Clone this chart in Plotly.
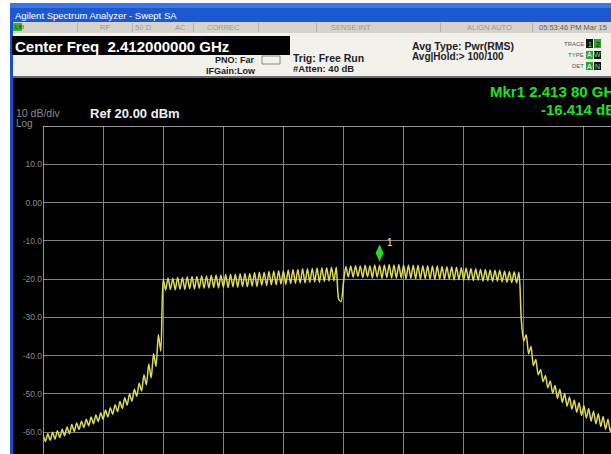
import plotly.graph_objects as go

# sweep grid (MHz): first visible point and step between sweep points
f_start = 2397.0
f_step = 0.12

# trace levels (dBm), one per sweep point
skirt_left = [
    -60.6, -62.4, -60.4, -62.1, -60.0, -61.8, -59.6, -61.4, -59.2, -60.9,
    -58.6, -60.4, -58.0, -59.8, -57.6, -59.3, -57.1, -58.8, -56.6, -58.3,
    -56.0, -57.8, -55.5, -57.2, -54.9, -56.6, -54.2, -56.0, -53.6, -55.3,
    -52.8, -54.6, -52.0, -53.8, -51.0, -52.9, -50.0, -51.9, -48.8, -50.6,
    -47.2, -49.2, -45.0, -47.6, -42.2, -45.8, -39.5, -42.8, -34.5, -38.8,
]
plateau = [
    -19.9, -22.9, -19.7, -22.7, -19.8, -22.8, -19.5, -22.6, -19.6, -22.7,
    -19.4, -22.5, -19.3, -22.6, -19.3, -22.4, -19.1, -22.4, -19.2, -22.3,
    -19.0, -22.2, -18.9, -22.3, -18.9, -22.1, -18.8, -22.2, -18.7, -22.0,
    -18.7, -22.1, -18.6, -21.9, -18.5, -22.0, -18.5, -21.8, -18.3, -21.9,
    -18.2, -21.6, -18.2, -21.7, -18.0, -21.5, -17.9, -21.5, -17.8, -21.3,
    -17.8, -21.4, -17.6, -21.2, -17.5, -21.1, -17.5, -21.0, -17.3, -21.0,
    -17.3, -20.8, -17.2, -20.7, -17.1, -20.8, -17.0, -20.6, -17.0, -20.5,
    -16.9, -20.4, -16.9, -25.2, -25.9, -20.8, -16.7, -19.4, -16.6, -19.5,
    -16.5, -19.3, -16.6, -19.6, -16.4, -19.4, -16.5, -19.7, -16.3, -19.5,
    -16.4, -19.8, -16.3, -19.6, -16.2, -19.7, -16.3, -19.8, -16.2, -19.7,
    -16.3, -19.9, -16.3, -19.8, -16.4, -19.9, -16.4, -20.0, -16.5, -19.9,
    -16.5, -20.0, -16.6, -20.1, -16.6, -20.0, -16.7, -20.1, -16.8, -20.0,
    -16.8, -20.2, -16.9, -20.1, -17.0, -20.3, -17.1, -20.2, -17.2, -20.4,
    -17.3, -20.3, -17.4, -20.5, -17.5, -20.4, -17.6, -20.6, -17.7, -20.5,
    -17.7, -20.7, -17.9, -20.8, -18.0, -20.9, -18.1, -21.0, -18.2,
]
skirt_right = [
    -31.0, -36.2, -34.5, -39.5, -37.6, -42.6, -41.0, -45.0, -43.6, -46.8,
    -45.2, -48.4, -46.6, -49.8, -47.8, -51.2, -48.8, -52.2, -49.9, -53.2,
    -50.8, -54.0, -51.6, -54.8, -52.3, -55.6, -53.0, -56.3, -53.8, -57.1,
    -54.5, -57.8, -55.2, -58.5, -55.9, -59.2, -56.6, -59.8, -57.2,
]
levels = skirt_left + plateau + skirt_right
freqs = [f_start + f_step * i for i in range(len(levels))]

mkr_freq = 2413.80
mkr_level = -16.414

y_ticks = [20, 10, 0, -10, -20, -30, -40, -50, -60]
y_labels = ["", "10.0", "0.00", "-10.0", "-20.0", "-30.0", "-40.0", "-50.0", "-60.0"]

# pixel frame of the graticule inside the 611x454 picture
L, T, W, H = 43, 126, 568, 328
FW, FH = 611, 454


def px(x):
    return (x - L) / W


def py(y):
    return (T + H - y) / H


FONT = "Liberation Sans, Arial, sans-serif"

fig = go.Figure()
fig.add_trace(go.Scatter(x=freqs, y=levels, mode="lines",
                         line=dict(color="#dcdc5a", width=1.5, shape="spline", smoothing=0.7),
                         hoverinfo="skip", showlegend=False))

shapes = []


def rect(x0, y0, x1, y1, color, line=None, layer="below"):
    shapes.append(dict(type="rect", xref="paper", yref="paper",
                       x0=px(x0), x1=px(x1), y0=py(y1), y1=py(y0),
                       fillcolor=color, line=dict(width=1 if line else 0, color=line or color),
                       layer=layer))


def text(x, y, s, size, color, bold=False, anchor="left", family=FONT):
    if bold:
        s = "<b>" + s + "</b>"
    fig.add_annotation(xref="paper", yref="paper", x=px(x), y=py(y), text=s,
                       showarrow=False, xanchor=anchor, yanchor="middle",
                       borderpad=0, font=dict(family=family, size=size, color=color))


# window chrome
rect(10, 3, FW, 22, "#1c58d0")
rect(10, 3, FW, 8, "#3a76e4")
rect(10, 22, 13, FH, "#1450d0")
rect(13, 22, FW, 33, "#d6d3cc")
rect(13, 33, FW, 76, "#f3f1ec")
rect(13, 76, FW, 78, "#6a6a6a")
rect(13, 78, FW, FH, "#000000")
rect(12, 36, 290, 55, "#000000")
rect(13, 23, 22, 31, "#2fb52f")
for xd in [77, 132, 193, 258, 316, 440, 532]:
    rect(xd, 23, xd + 1, 32, "#b4b1aa")
rect(262, 56, 280, 64, "#f3f1ec", line="#888888")
# trace / type / det boxes
rect(586, 39, 593, 48, "#151515")
rect(594, 39, 601, 48, "#2f9f2f")
rect(586, 51, 593, 59, "#2f9f2f")
rect(594, 51, 601, 59, "#151515")
rect(586, 62, 593, 70, "#2f9f2f")
rect(594, 62, 601, 70, "#151515")

text(14, 15, "Agilent Spectrum Analyzer - Swept SA", 9.5, "white")
text(14, 27, "LXI", 6, "#0a3a0a")
text(99, 27, "RF", 7.5, "#9c9a94")
text(134, 27, "50 Ω", 7.5, "#9c9a94")
text(174, 27, "AC", 7.5, "#9c9a94")
text(206, 27, "CORREC", 7.5, "#9c9a94")
text(330, 27, "SENSE:INT", 7.5, "#9c9a94")
text(466, 27, "ALIGN AUTO", 7.5, "#9c9a94")
text(538, 27, "05:53:46 PM Mar 15", 7.5, "#606060")
text(14, 46, "Center Freq  2.412000000 GHz", 15, "white", bold=True)
text(214, 60, "PNO: Far", 9, "#222222", bold=True)
text(205, 71, "IFGain:Low", 9, "#222222", bold=True)
text(292, 58, "Trig: Free Run", 10.5, "#222222", bold=True)
text(292, 69, "#Atten: 40 dB", 9.5, "#222222", bold=True)
text(411, 46, "Avg Type: Pwr(RMS)", 10.5, "#222222", bold=True)
text(411, 57, "Avg|Hold:> 100/100", 10, "#222222", bold=True)
text(585, 44, "TRACE", 6, "#555555", anchor="right")
text(585, 55, "TYPE", 6, "#555555", anchor="right")
text(585, 66, "DET", 6, "#555555", anchor="right")
text(589.5, 44, "1", 7, "#6fe06f", anchor="center")
text(597.5, 44, "2", 7, "#0a2a0a", anchor="center")
text(589.5, 55, "A", 7, "white", anchor="center")
text(597.5, 55, "W", 7, "#6fe06f", anchor="center")
text(589.5, 66, "A", 7, "white", anchor="center")
text(597.5, 66, "N", 7, "#6fe06f", anchor="center")

# display annotations
text(15, 113, "10 dB/div", 10.5, "#8a8a8a")
text(15, 123.5, "Log", 10, "#8a8a8a")
text(89, 114, "Ref 20.00 dBm", 13, "#f0f0f0", bold=True)
text(489, 92, "Mkr1 2.413 80 GHz", 15, "#22e022", bold=True)
text(540, 109, "-16.414 dBm", 15, "#22e022", bold=True)

# marker 1: diamond sitting just above the trace point, with its number
shapes.append(dict(type="path", xref="x", yref="y", xsizemode="pixel", ysizemode="pixel",
                   xanchor=mkr_freq, yanchor=mkr_level,
                   path="M 0,4 L 4,12.5 L 0,21 L -4,12.5 Z",
                   fillcolor="#1ee01e", line=dict(width=0), layer="above"))
fig.add_annotation(x=mkr_freq, y=mkr_level, text="1", showarrow=False,
                   xshift=10, yshift=23, font=dict(family=FONT, size=10, color="#e6f0c8"))

# brighter graticule border (top and left)
shapes.append(dict(type="line", xref="paper", yref="y", x0=0, x1=1, y0=20, y1=20,
                   line=dict(color="#c4c4c4", width=1.5), layer="above"))
shapes.append(dict(type="line", xref="x", yref="paper", x0=f_start, x1=f_start, y0=0, y1=1,
                   line=dict(color="#c4c4c4", width=1.5), layer="above"))

fig.update_xaxes(range=[f_start, f_start + 30 * W / 601], tick0=f_start, dtick=3,
                 showgrid=True, gridcolor="#838383", gridwidth=1,
                 showticklabels=False, zeroline=False, ticks="")
fig.update_yaxes(range=[20 - 10 * H / 38.28, 20], tickvals=y_ticks, ticktext=y_labels,
                 showgrid=True, gridcolor="#838383", gridwidth=1, zeroline=False,
                 tickfont=dict(family=FONT, size=8.5, color="#8a8a8a"), ticks="")
fig.update_layout(
    width=FW, height=FH, autosize=False,
    margin=dict(l=L, r=0, t=T, b=0, pad=0),
    paper_bgcolor="white", plot_bgcolor="black",
    shapes=shapes, showlegend=False,
)

fig.write_html("out.html", config={"displayModeBar": False},
               post_script="document.body.style.margin='0';")
